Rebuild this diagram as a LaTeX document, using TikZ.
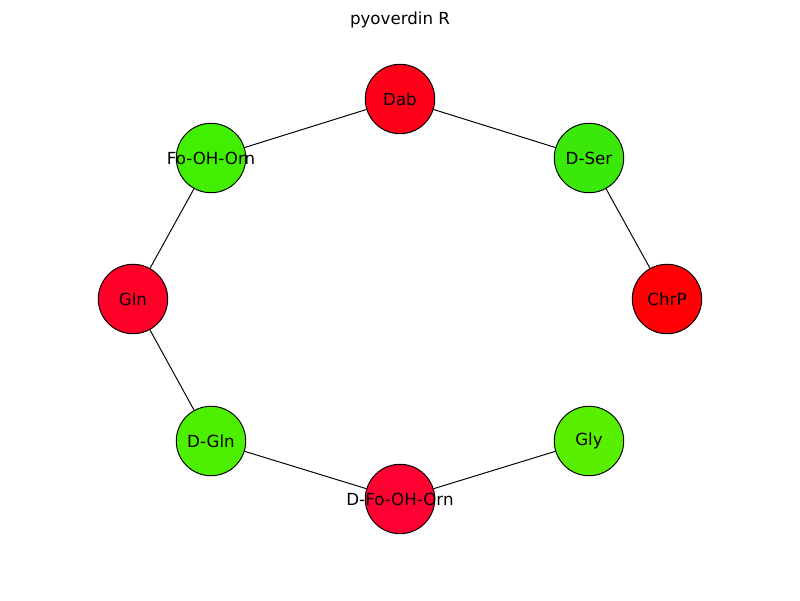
\documentclass[tikz,border=0pt]{standalone}
\usepackage{fontspec}
\setmainfont{DejaVu Sans}
\begin{document}
\begin{tikzpicture}[x=0.72pt,y=-0.72pt,
  res/.style={circle,draw=black,line width=0.7pt,minimum size=50pt,inner sep=0pt},
  reslabel/.style={inner sep=0pt,font=\fontsize{12}{14}\selectfont},
  link/.style={draw=black,line width=0.7pt}]
\definecolor{cDab}{HTML}{FF0018}
\definecolor{cDSer}{HTML}{3AE80A}
\definecolor{cChrP}{HTML}{FF0004}
\definecolor{cGly}{HTML}{58F000}
\definecolor{cDFo}{HTML}{FF0033}
\definecolor{cDGln}{HTML}{4CF000}
\definecolor{cGln}{HTML}{FF0028}
\definecolor{cFo}{HTML}{40F000}
\useasboundingbox (0,0) rectangle (800,600);
\node[font=\fontsize{12}{14}\selectfont] (title) at (400,20) {pyoverdin R};
% discs
\node[res,fill=cDab] (Dab) at (400,99) {};
\node[res,fill=cDSer] (DSer) at (589,158) {};
\node[res,fill=cChrP] (ChrP) at (667,299) {};
\node[res,fill=cGly] (Gly) at (589,441) {};
\node[res,fill=cDFo] (DFo) at (400,499) {};
\node[res,fill=cDGln] (DGln) at (211,441) {};
\node[res,fill=cGln] (Gln) at (133,299) {};
\node[res,fill=cFo] (Fo) at (211,158) {};
% connections between residues
\draw[link] (Dab) -- (Fo);
\draw[link] (Dab) -- (DSer);
\draw[link] (DSer) -- (ChrP);
\draw[link] (Fo) -- (Gln);
\draw[link] (Gln) -- (DGln);
\draw[link] (DGln) -- (DFo);
\draw[link] (DFo) -- (Gly);
% residue names
\node[reslabel] (tDab) at (Dab) {Dab};
\node[reslabel] (tDSer) at (DSer) {D-Ser};
\node[reslabel] (tChrP) at (ChrP) {ChrP};
\node[reslabel] (tGly) at (Gly) {Gly};
\node[reslabel] (tDFo) at (DFo) {D-Fo-OH-Orn};
\node[reslabel] (tDGln) at (DGln) {D-Gln};
\node[reslabel] (tGln) at (Gln) {Gln};
\node[reslabel] (tFo) at (Fo) {Fo-OH-Orn};
\end{tikzpicture}
\end{document}
